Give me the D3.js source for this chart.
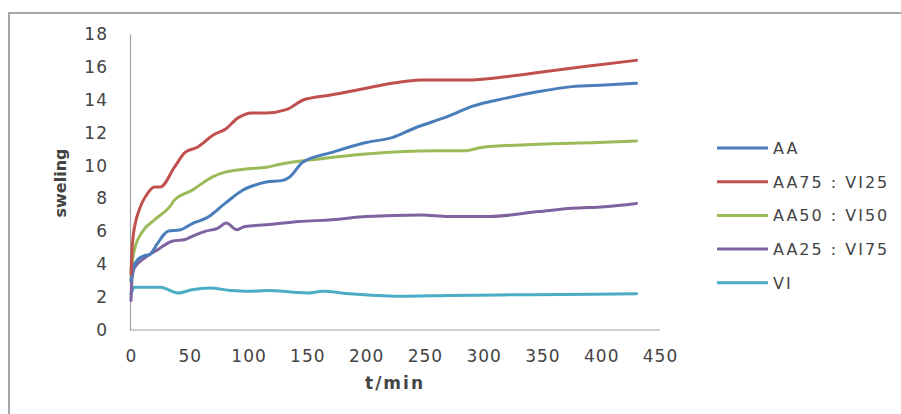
<!DOCTYPE html>
<html>
<head>
<meta charset="utf-8">
<script src="https://cdn.jsdelivr.net/npm/d3@7"></script>
<style>
  body { margin: 0; background: #fff; }
  text { font-family: "DejaVu Sans", sans-serif; fill: #444; }
</style>
</head>
<body>
<div id="chart"></div>
<script>
const seriesNames = ['AA', 'AA75 : VI25', 'AA50 : VI50', 'AA25 : VI75', 'VI'];
const seriesColors = ['#4a7ebb', '#c0504d', '#9bbb59', '#7f63a1', '#4bacc6'];

const xTicks = [0, 50, 100, 150, 200, 250, 300, 350, 400, 450];
const yTicks = [0, 2, 4, 6, 8, 10, 12, 14, 16, 18];

// [t (min), swelling]
const aa = [[0, 3.0], [2, 3.8], [6, 4.3], [11, 4.5], [16, 4.6], [22, 5.2], [28, 5.8], [31, 6.0],
  [42, 6.1], [53, 6.5], [64, 6.8], [80, 7.7], [95, 8.5], [105, 8.8], [115, 9.0], [129, 9.1],
  [135, 9.3], [146, 10.2], [171, 10.8], [200, 11.4], [222, 11.7], [242, 12.3], [270, 13.0],
  [290, 13.6], [319, 14.1], [347, 14.5], [375, 14.8], [403, 14.9], [430, 15.0]];
const aa75 = [[0, 3.4], [1, 5.0], [2, 5.8], [4, 6.6], [6, 7.1], [14, 8.3], [20, 8.7], [25, 8.7],
  [37, 9.9], [46, 10.8], [56, 11.1], [71, 11.9], [80, 12.2], [91, 12.9], [103, 13.2], [115, 13.2],
  [132, 13.4], [147, 14.0], [171, 14.3], [200, 14.7], [222, 15.0], [247, 15.2], [285, 15.2],
  [319, 15.4], [361, 15.8], [395, 16.1], [430, 16.4]];
const aa50 = [[0, 3.0], [1, 4.0], [3, 4.9], [10, 6.0], [20, 6.7], [33, 7.5], [37, 7.9], [52, 8.5],
  [69, 9.3], [80, 9.6], [100, 9.8], [115, 9.9], [128, 10.1], [160, 10.4], [200, 10.7], [260, 10.9],
  [285, 10.9], [298, 11.1], [347, 11.3], [397, 11.4], [430, 11.5]];
const aa25 = [[0, 1.8], [1, 3.2], [3, 3.8], [12, 4.4], [23, 4.9], [35, 5.4], [46, 5.5], [52, 5.7],
  [63, 6.0], [74, 6.2], [81, 6.5], [90, 6.1], [97, 6.3], [115, 6.4], [143, 6.6], [171, 6.7],
  [200, 6.9], [247, 7.0], [270, 6.9], [305, 6.9], [347, 7.2], [375, 7.4], [403, 7.5], [430, 7.7]];
const vi = [[0, 2.2], [3, 2.6], [25, 2.6], [40, 2.25], [52, 2.45], [67, 2.55], [85, 2.4],
  [100, 2.35], [115, 2.4], [139, 2.3], [150, 2.25], [163, 2.35], [186, 2.2], [228, 2.05],
  [270, 2.1], [340, 2.15], [430, 2.2]];

const seriesData = [aa, aa75, aa50, aa25, vi];

const W = 901, H = 414;
const svg = d3.select('#chart').append('svg')
  .attr('width', W).attr('height', H);

// outer frame (cropped figure border)
svg.append('path')
  .attr('d', `M9,${H} V13 H${W}`)
  .attr('fill', 'none').attr('stroke', '#a6a6a6').attr('stroke-width', 2);

const x = d3.scaleLinear().domain([0, 450]).range([131, 660]);
const y = d3.scaleLinear().domain([0, 18]).range([330, 34]);

const axisY = d3.axisLeft(y).tickValues(yTicks).tickSize(0).tickPadding(22);
const axisX = d3.axisBottom(x).tickValues(xTicks).tickSize(0).tickPadding(20);

const gy = svg.append('g').attr('transform', 'translate(130,0)').call(axisY);
const gx = svg.append('g').attr('transform', 'translate(0,330)').call(axisX);

[gx, gy].forEach((g) => {
  g.select('.domain').attr('stroke', '#a0a0a0').attr('stroke-width', 1.2);
  g.selectAll('text')
    .style('font-size', '17px')
    .style('letter-spacing', '1px')
    .attr('fill', '#444');
});
gx.select('.domain').attr('d', 'M130,0H660');

svg.append('text')
  .attr('transform', 'translate(66,183) rotate(-90)')
  .attr('text-anchor', 'middle')
  .style('font-size', '16px').style('font-weight', 'bold')
  .attr('fill', '#222')
  .text('sweling');

svg.append('text')
  .attr('x', 395).attr('y', 389)
  .attr('text-anchor', 'middle')
  .style('font-size', '17px').style('font-weight', 'bold')
  .style('letter-spacing', '2px')
  .attr('fill', '#222')
  .text('t/min');

const line = d3.line()
  .x((d) => x(d[0]))
  .y((d) => y(d[1]))
  .curve(d3.curveMonotoneX);

// draw order: VI at back, AA on top of green
[4, 3, 2, 0, 1].forEach((i) => {
  svg.append('path')
    .datum(seriesData[i])
    .attr('d', line)
    .attr('fill', 'none')
    .attr('stroke', seriesColors[i])
    .attr('stroke-width', 3)
    .attr('stroke-linejoin', 'round')
    .attr('stroke-linecap', 'round');
});

const legend = svg.append('g');
seriesNames.forEach((name, i) => {
  const ly = 148 + i * 33.7;
  legend.append('line')
    .attr('x1', 717).attr('x2', 768)
    .attr('y1', ly).attr('y2', ly)
    .attr('stroke', seriesColors[i]).attr('stroke-width', 3);
  legend.append('text')
    .attr('x', 773).attr('y', ly + 6)
    .style('font-size', '16px')
    .style('letter-spacing', '2px')
    .attr('fill', '#444')
    .text(name);
});
</script>
</body>
</html>
